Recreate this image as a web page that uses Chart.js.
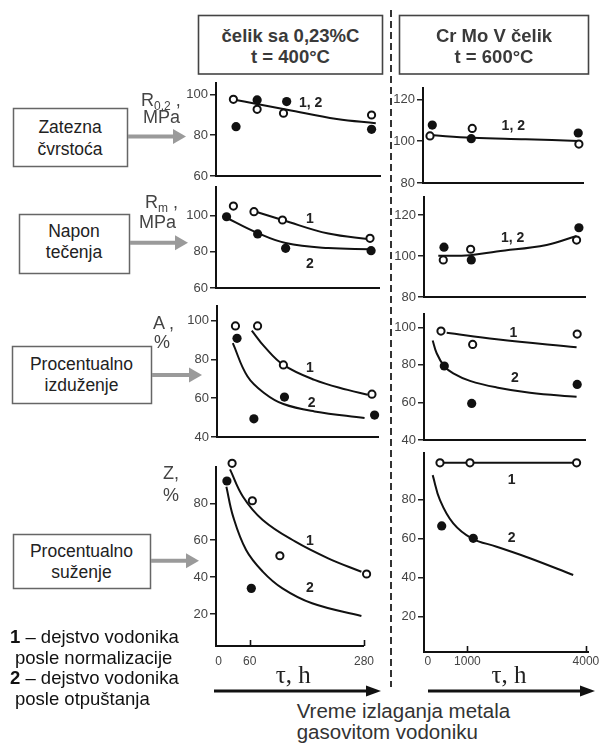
<!DOCTYPE html>
<html>
<head>
<meta charset="utf-8">
<script src="https://cdn.jsdelivr.net/npm/chart.js@4.4.1/dist/chart.umd.min.js"></script>
<style>
html,body{margin:0;padding:0;background:#fff;}
#page{position:relative;width:599px;height:743px;overflow:hidden;font-family:"Liberation Sans",Arial,sans-serif;}
canvas{position:absolute;}
.t{position:absolute;white-space:nowrap;line-height:1;}
.sub{position:relative;top:4px;font-size:12px;}
svg{position:absolute;left:0;top:0;}
</style>
</head>
<body>
<div id="page">
<svg id="deco" width="599" height="743" xmlns="http://www.w3.org/2000/svg"></svg>
</div>
<script>
// ---------- DATA (time in h, property values) ----------
// Left column: čelik sa 0,23%C, t = 400°C
const L1_open_t = [28, 73, 123, 290];   const L1_open_v = [97.6, 92.7, 90.8, 89.9];
const L1_fill_t = [33, 73, 129, 290];   const L1_fill_v = [84.2, 97.3, 96.5, 82.9];
const L1_c12_t  = [22, 75, 130, 224, 298]; const L1_c12_v = [97.8, 95.2, 92.5, 87.9, 85.9];

const L2_open_t = [28, 67, 121, 287];   const L2_open_v = [105.2, 102.1, 97.5, 87.4];
const L2_fill_t = [15, 74, 127, 289];   const L2_fill_v = [99.3, 89.8, 81.9, 80.6];
const L2_c1_t = [63, 121, 208, 287];    const L2_c1_v = [102.7, 97.5, 90, 86.9];
const L2_c2_t = [11, 74, 127, 208, 287]; const L2_c2_v = [99.3, 90.3, 84.8, 82, 81.4];

const L3_open_t = [30, 72, 121, 289];   const L3_open_v = [97.3, 97.3, 77.2, 62.1];
const L3_fill_t = [33, 65, 123, 294];   const L3_fill_v = [90.9, 49.4, 60.6, 51.3];
const L3_c1_t = [61, 85, 121, 180, 243, 281]; const L3_c1_v = [94.9, 86.6, 77.2, 69.5, 64.3, 61.8];
const L3_c2_t = [25, 53, 85, 121, 180, 275];  const L3_c2_v = [88.4, 71.2, 62.6, 57, 53.2, 49.8];

const L4_open_t = [26, 65, 118, 285];   const L4_open_v = [101.7, 81.4, 51.6, 41.7];
const L4_fill_t = [16, 63];             const L4_fill_v = [92.1, 33.9];
const L4_c1_t = [22, 47, 85, 148, 211, 275];      const L4_c1_v = [98.4, 83.6, 71, 59.2, 50.2, 42.9];
const L4_c2_t = [15, 28, 53, 85, 123, 180, 275];  const L4_c2_v = [89, 72.8, 54.7, 43, 33.9, 25.8, 18.9];

// Right column: Cr Mo V čelik, t = 600°C
const R1_open_t = [77, 1147, 3847];     const R1_open_v = [102.5, 106.1, 98.6];
const R1_fill_t = [135, 1122, 3830];    const R1_fill_v = [107.7, 101.2, 103.9];
const R1_c12_t = [77, 1150, 2500, 3830]; const R1_c12_v = [102.9, 101.6, 100.9, 100.1];

const R2_open_t = [388, 1081, 3763];    const R2_open_v = [98.1, 103.3, 107.8];
const R2_fill_t = [406, 1097, 3822];    const R2_fill_v = [104.3, 98.1, 113.8];
const R2_c12_t = [262, 1064, 1739, 3004, 3763]; const R2_c12_v = [100.1, 100.4, 102.2, 105.4, 109.8];

const R3_open_t = [330, 1132, 3778];    const R3_open_v = [98, 90.9, 96.4];
const R3_fill_t = [414, 1107, 3778];    const R3_fill_v = [79.4, 59.5, 69.6];
const R3_c1_t = [474, 1739, 3763];      const R3_c1_v = [97.1, 93.6, 89.4];
const R3_c2_t = [120, 221, 406, 641, 1064, 1739, 2582, 3763]; const R3_c2_v = [93, 86.2, 79.5, 75.5, 71.5, 68, 65.2, 63];

const R4_open_t = [305, 1064, 3763];    const R4_open_v = [98.7, 98.7, 98.7];
const R4_fill_t = [348, 1147];          const R4_fill_v = [66.4, 60.1];
const R4_c1_t = [204, 3763];            const R4_c1_v = [98.7, 98.7];
const R4_c2_t = [120, 305, 641, 1107, 1739, 2582, 3677]; const R4_c2_v = [92.4, 79.6, 67.7, 60.1, 55.8, 49.9, 41.3];

// tick labels
const yTicks_R02_L = [60, 80, 100];
const yTicks_R02_R = [80, 100, 120];
const yTicks_Rm_L = [60, 80, 100];
const yTicks_Rm_R = [80, 100, 120];
const yTicks_A = [40, 60, 80, 100];
const yTicks_Z = [20, 40, 60, 80];
const xTicks_L = [0, 60, 280];
const xTicks_R = [0, 1000, 4000];

// ---------- helpers ----------
const page = document.getElementById('page');
const svg = document.getElementById('deco');
const NS = 'http://www.w3.org/2000/svg';
function el(tag, attrs){ const e=document.createElementNS(NS,tag); for(const k in attrs) e.setAttribute(k, attrs[k]); svg.appendChild(e); return e; }
function txt(html, x, y, css, align){
  const d=document.createElement('div'); d.className='t'; d.innerHTML=html;
  Object.assign(d.style, css||{});
  d.style.left=x+'px'; d.style.top=y+'px';
  d.style.transform = align==='left' ? 'translate(0,-50%)' : 'translate(-50%,-50%)';
  page.appendChild(d);
}
function pts(xs, ys){ return xs.map((x,i)=>({x:x, y:ys[i]})); }
function openDS(xs,ys){ return {data:pts(xs,ys), showLine:false, pointRadius:3.6, pointBorderWidth:2, pointBackgroundColor:'#fff', pointBorderColor:'#111', clip:false}; }
function fillDS(xs,ys){ return {data:pts(xs,ys), showLine:false, pointRadius:4.6, pointBorderWidth:0, pointBackgroundColor:'#111', pointBorderColor:'#111', clip:false}; }
function curveDS(xs,ys){ return {data:pts(xs,ys), showLine:true, pointRadius:0, borderColor:'#111', borderWidth:2, tension:0.4, clip:false, fill:false}; }

const innerTicks = {
  id:'innerTicks',
  afterDraw(chart, args, opts){
    if(!opts || !opts.values || !opts.values.length) return;
    const xs = chart.scales.x, ctx = chart.ctx;
    ctx.save(); ctx.strokeStyle='#111'; ctx.lineWidth=1.6;
    opts.values.forEach(v=>{ const px = Math.round(xs.getPixelForValue(v))+0.5; ctx.beginPath(); ctx.moveTo(px, xs.top); ctx.lineTo(px, xs.top - opts.len); ctx.stroke(); });
    ctx.restore();
  }
};

const YW = 44, PT = 12, PR = 16;
function panel(g, datasets){
  const XH = g.xTicks ? 26 : 10;
  const W = (g.r - g.l) + YW + PR, H = (g.b - g.t) + PT + XH;
  const c = document.createElement('canvas');
  c.width = W; c.height = H; c.style.left = (g.l - YW)+'px'; c.style.top = (g.t - PT)+'px';
  page.appendChild(c);
  new Chart(c, {
    type:'scatter',
    data:{datasets:datasets},
    options:{
      responsive:false, animation:false, events:[],
      layout:{padding:{top:PT, right:PR, left:0, bottom:0}},
      plugins:{legend:{display:false}, tooltip:{enabled:false}, innerTicks:{values:g.inner||[], len:6}},
      scales:{
        x:{type:'linear', min:g.x[0], max:g.x[1],
           grid:{display:false, drawTicks:false},
           border:{display:true, color:'#111', width:2},
           ticks:{display:!!g.xTicks, padding:g.xPad||0, color:'#444', font:{family:'Liberation Sans', size:12}, maxRotation:0, autoSkip:false, callback: v => String(v)},
           afterBuildTicks: s => { s.ticks = (g.xTicks||[]).map(v=>({value:v})); },
           afterFit: s => { s.height = XH; }
        },
        y:{type:'linear', min:g.y[0], max:g.y[1],
           grid:{display:true, drawOnChartArea:false, drawTicks:true, tickLength:6, color:'#222', lineWidth:1.5},
           border:{display:true, color:'#111', width:2},
           ticks:{padding:2, color:'#444', font:{family:'Liberation Sans', size:13}, autoSkip:false, callback: v => String(v)},
           afterBuildTicks: s => { s.ticks = g.yTicks.map(v=>({value:v})); },
           afterFit: s => { s.width = YW; }
        }
      }
    },
    plugins:[innerTicks]
  });
}

// ---------- panels ----------
panel({l:216,r:380,t:83,b:176, x:[-5,306], y:[60,105.6], yTicks:yTicks_R02_L},
  [openDS(L1_open_t,L1_open_v), fillDS(L1_fill_t,L1_fill_v), curveDS(L1_c12_t,L1_c12_v)]);
panel({l:423,r:583,t:88,b:183, x:[-100,3951], y:[80,125.4], yTicks:yTicks_R02_R},
  [openDS(R1_open_t,R1_open_v), fillDS(R1_fill_t,R1_fill_v), curveDS(R1_c12_t,R1_c12_v)]);
panel({l:216,r:379,t:187,b:288, x:[-5,304], y:[60,115.7], yTicks:yTicks_Rm_L},
  [openDS(L2_open_t,L2_open_v), fillDS(L2_fill_t,L2_fill_v), curveDS(L2_c1_t,L2_c1_v), curveDS(L2_c2_t,L2_c2_v)]);
panel({l:424,r:585,t:197,b:297, x:[-100,3976], y:[80,128.8], yTicks:yTicks_Rm_R},
  [openDS(R2_open_t,R2_open_v), fillDS(R2_fill_t,R2_fill_v), curveDS(R2_c12_t,R2_c12_v)]);
panel({l:217,r:378,t:306,b:437, x:[-5,300.5], y:[40,107.6], yTicks:yTicks_A},
  [openDS(L3_open_t,L3_open_v), fillDS(L3_fill_t,L3_fill_v), curveDS(L3_c1_t,L3_c1_v), curveDS(L3_c2_t,L3_c2_v)]);
panel({l:424,r:585,t:314,b:440, x:[-100,3976], y:[40,107.1], yTicks:yTicks_A},
  [openDS(R3_open_t,R3_open_v), fillDS(R3_fill_t,R3_fill_v), curveDS(R3_c1_t,R3_c1_v), curveDS(R3_c2_t,R3_c2_v)]);
panel({l:216,r:366,t:467,b:646, x:[-5,280], y:[2.66,99.7], yTicks:yTicks_Z, xTicks:xTicks_L, inner:[60,280], xPad:8},
  [openDS(L4_open_t,L4_open_v), fillDS(L4_fill_t,L4_fill_v), curveDS(L4_c1_t,L4_c1_v), curveDS(L4_c2_t,L4_c2_v)]);
panel({l:424,r:588,t:453,b:652, x:[-100,4052], y:[1.96,103.7], yTicks:yTicks_Z, xTicks:xTicks_R, inner:[1000,4000], xPad:2},
  [openDS(R4_open_t,R4_open_v), fillDS(R4_fill_t,R4_fill_v), curveDS(R4_c1_t,R4_c1_v), curveDS(R4_c2_t,R4_c2_v)]);

// ---------- decorations ----------
el('rect',{x:198.5,y:15.5,width:184,height:58.5,fill:'none',stroke:'#444','stroke-width':1.6});
el('rect',{x:399.5,y:15.5,width:189,height:58.5,fill:'none',stroke:'#444','stroke-width':1.6});
el('line',{x1:391,y1:10,x2:391,y2:687,stroke:'#333','stroke-width':2,'stroke-dasharray':'7 4'});
[[13,108,127,166],[19,214,129,273],[12,346,151,403],[13,534,150,588]].forEach(b=>{
  el('rect',{x:b[0]+0.5,y:b[1]+0.5,width:b[2]-b[0],height:b[3]-b[1],fill:'none',stroke:'#666','stroke-width':1.5});
});
function grayArrow(x1,x2,y){
  el('line',{x1:x1,y1:y,x2:x2-12,y2:y,stroke:'#9a9a9a','stroke-width':4});
  el('polygon',{points:`${x2-13},${y-7.5} ${x2},${y} ${x2-13},${y+7.5}`,fill:'#9a9a9a'});
}
grayArrow(128,186,136.5); grayArrow(130,188,242.7); grayArrow(152,202,375); grayArrow(151,199,560.7);
function blackArrow(x1,x2,y){
  el('line',{x1:x1,y1:y,x2:x2-13,y2:y,stroke:'#111','stroke-width':3});
  el('polygon',{points:`${x2-15},${y-5.5} ${x2},${y} ${x2-15},${y+5.5}`,fill:'#111'});
}
blackArrow(214,381,691); blackArrow(428,595,691);

// ---------- texts ----------
const hdr = {fontWeight:'bold', fontSize:'18.5px', color:'#3a3a3a'};
txt('čelik sa 0,23%C', 290.5, 36, hdr); txt('t = 400°C', 290.5, 57, hdr);
txt('Cr Mo V čelik', 494, 36, hdr); txt('t = 600°C', 494, 57, hdr);

const bx = {fontSize:'17.5px', color:'#222'};
txt('Zatezna', 70, 128.3, bx); txt('čvrstoća', 70, 150, bx);
txt('Napon', 74, 231.7, bx); txt('tečenja', 74, 253.3, bx);
txt('Procentualno', 81.5, 365, bx); txt('izduženje', 81.5, 386, bx);
txt('Procentualno', 81.5, 552.3, bx); txt('suženje', 81.5, 572.7, bx);

const q = {fontSize:'18px', color:'#444'};
txt('R<span class="sub">0,2</span> ,', 141, 100, q, 'left'); txt('MPa', 143, 117, q, 'left');
txt('R<span class="sub">m</span> ,', 145, 201.7, q, 'left'); txt('MPa', 139, 221.7, q, 'left');
txt('A ,', 153, 323, q, 'left'); txt('%', 154, 342, q, 'left');
txt('Z,', 163, 473, q, 'left'); txt('%', 163, 495, q, 'left');

const nl = {fontWeight:'bold', fontSize:'14px', color:'#222'};
txt('1, 2', 310.7, 101.7, nl); txt('1, 2', 513.3, 125, nl);
txt('1', 310, 218.3, nl); txt('2', 310, 263.3, nl);
txt('1, 2', 512.7, 236.7, nl);
txt('1', 310, 366.7, nl); txt('2', 311.7, 401.7, nl);
txt('1', 513.3, 331.7, nl); txt('2', 515, 376.7, nl);
txt('1', 310, 540, nl); txt('2', 310, 586.7, nl);
txt('1', 511.7, 479.3, nl); txt('2', 511.7, 536.7, nl);

const tau = {fontFamily:'"Liberation Serif","DejaVu Serif",serif', fontSize:'25px', color:'#222'};
txt('τ, h', 293.3, 674, tau); txt('τ, h', 509, 674, tau);

const vr = {fontSize:'20.5px', color:'#333'};
txt('Vreme izlaganja metala', 296.7, 711, vr, 'left');
txt('gasovitom vodoniku', 296.7, 731.7, vr, 'left');

const lg = {fontSize:'18.5px', color:'#111'};
txt('<b>1</b> – dejstvo vodonika', 10, 636.7, lg, 'left');
txt('posle normalizacije', 15, 657.7, lg, 'left');
txt('<b>2</b> – dejstvo vodonika', 10, 678.3, lg, 'left');
txt('posle otpuštanja', 15, 699.3, lg, 'left');
</script>
</body>
</html>
